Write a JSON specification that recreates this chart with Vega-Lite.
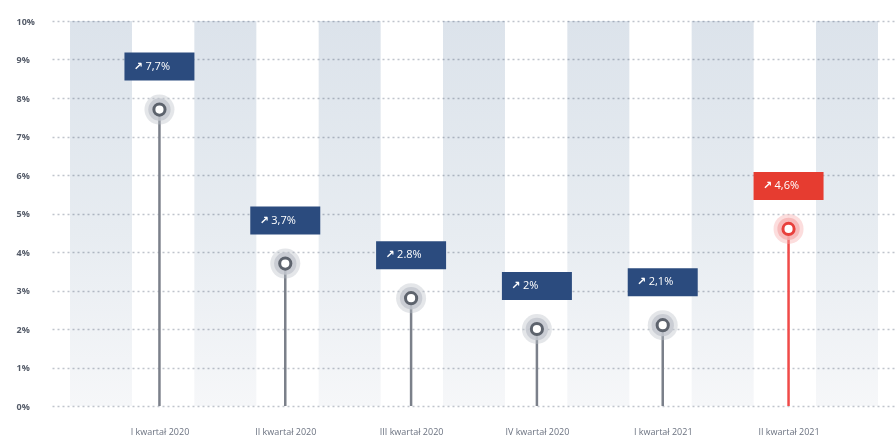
{
  "$schema": "https://vega.github.io/schema/vega-lite/v6.json",
  "width": 844,
  "height": 385,
  "autosize": "none",
  "padding": {"left": 52, "top": 21, "right": 0, "bottom": 30},
  "background": "white",
  "config": {
    "view": {"stroke": null},
    "font": "Open Sans"
  },
  "datasets": {
    "quarters": [
      {"quarter": "I kwartał 2020", "value": 7.7, "label": "7,7%", "group": "past"},
      {"quarter": "II kwartał 2020", "value": 3.7, "label": "3,7%", "group": "past"},
      {"quarter": "III kwartał 2020", "value": 2.8, "label": "2.8%", "group": "past"},
      {"quarter": "IV kwartał 2020", "value": 2.0, "label": "2%", "group": "past"},
      {"quarter": "I kwartał 2021", "value": 2.1, "label": "2,1%", "group": "past"},
      {"quarter": "II kwartał 2021", "value": 4.6, "label": "4,6%", "group": "latest"}
    ],
    "stripes": [{"s": 0}, {"s": 1}, {"s": 2}, {"s": 3}, {"s": 4}, {"s": 5}, {"s": 6}]
  },
  "layer": [
    {
      "data": {"name": "stripes"},
      "mark": {
        "type": "bar",
        "width": 62,
        "blend": "multiply",
        "color": {
          "gradient": "linear",
          "x1": 0, "y1": 0, "x2": 0, "y2": 1,
          "stops": [
            {"offset": 0, "color": "#dce3eb"},
            {"offset": 0.55, "color": "#e7ecf1"},
            {"offset": 1, "color": "#f6f7f9"}
          ]
        }
      },
      "encoding": {
        "x": {"field": "s", "type": "quantitative", "scale": {"domain": [-0.354, 6.354]}, "axis": null},
        "y": {"datum": 10, "type": "quantitative"},
        "y2": {"datum": 0}
      }
    },
    {
      "data": {"name": "quarters"},
      "encoding": {
        "x": {
          "field": "quarter",
          "type": "nominal",
          "sort": null,
          "scale": {"type": "point", "padding": 0.854},
          "axis": {
            "title": null,
            "domain": false,
            "ticks": false,
            "grid": false,
            "labelAngle": 0,
            "labelPadding": 21,
            "labelFontSize": 9,
            "labelColor": "#6b7280"
          }
        },
        "y": {
          "field": "value",
          "type": "quantitative",
          "scale": {"domain": [0, 10], "nice": false},
          "axis": {
            "values": [0, 1, 2, 3, 4, 5, 6, 7, 8, 9, 10],
            "tickCount": 12,
            "labelExpr": "datum.value + '%'",
            "grid": true,
            "gridDash": [2, 3],
            "gridColor": "#bfc4cc",
            "gridWidth": 1.4,
            "domain": false,
            "ticks": false,
            "labelAlign": "left",
            "labelPadding": 36,
            "labelOverlap": false,
            "labelFontSize": 9,
            "labelFontWeight": "bold",
            "labelColor": "#555c69",
            "title": null
          }
        }
      },
      "layer": [
        {
          "mark": {"type": "rule", "strokeWidth": 2.5},
          "encoding": {
            "y2": {"datum": 0},
            "color": {"condition": {"test": "datum.group === 'latest'", "value": "#f04a48"}, "value": "#7b808a"}
          }
        },
        {
          "mark": {"type": "point", "filled": true, "size": 900, "opacity": 0.4},
          "encoding": {
            "color": {"condition": {"test": "datum.group === 'latest'", "value": "#f7a9a9"}, "value": "#bcc1c9"}
          }
        },
        {
          "mark": {"type": "point", "filled": true, "size": 500, "opacity": 0.8},
          "encoding": {
            "color": {"condition": {"test": "datum.group === 'latest'", "value": "#f5b2b2"}, "value": "#c3c7ce"}
          }
        },
        {
          "mark": {"type": "point", "filled": false, "fill": "white", "fillOpacity": 1, "opacity": 1, "size": 125, "strokeWidth": 3},
          "encoding": {
            "stroke": {"condition": {"test": "datum.group === 'latest'", "value": "#e8403c"}, "value": "#5d636d"}
          }
        },
        {
          "mark": {"type": "point", "filled": true, "opacity": 1, "shape": "M-1,-0.4H1V0.4H-1Z", "size": 4900, "yOffset": -43},
          "encoding": {
            "color": {"condition": {"test": "datum.group === 'latest'", "value": "#e63c30"}, "value": "#2b4b7e"}
          }
        },
        {
          "mark": {"type": "text", "text": "↗", "color": "white", "fontSize": 11, "fontWeight": "bold", "font": "DejaVu Sans", "align": "center", "baseline": "middle", "xOffset": -21, "yOffset": -43}
        },
        {
          "mark": {"type": "text", "color": "white", "fontSize": 11, "fontWeight": 500, "align": "left", "baseline": "middle", "xOffset": -14, "yOffset": -43},
          "encoding": {
            "text": {"field": "label", "type": "nominal"}
          }
        }
      ]
    }
  ],
  "resolve": {"scale": {"x": "independent"}}
}
